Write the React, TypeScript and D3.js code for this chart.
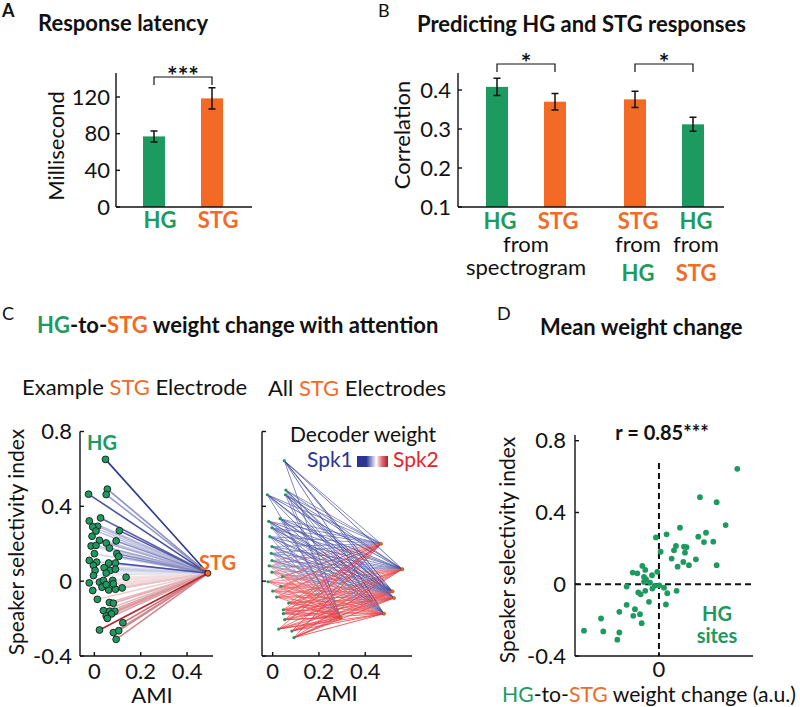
import React from 'react';
import * as d3 from 'd3';

const GREEN = '#1d9a5f';
const ORANGE = '#f26a26';
const BLUE = '#2c3593';
const RED = '#e3262d';
const DARKRED = '#ad1c26';
const FONT = 'Lato, "Open Sans", sans-serif';

// Panel A: response latency
const latencyRegions = ['HG', 'STG'];
const latencyMean = [77, 118.5];
const latencyErr = [6, 11.5];
const latencyTicks = [0, 40, 80, 120];

// Panel B: prediction correlation
const predTargets = ['HG', 'STG', 'STG', 'HG'];
const predSources = ['spectrogram', 'spectrogram', 'HG', 'STG'];
const predMean = [0.408, 0.37, 0.376, 0.312];
const predErr = [0.022, 0.021, 0.021, 0.018];
const predTicks = [0.1, 0.2, 0.3, 0.4];

// Panel C left: example STG electrode
const exHgAmi = [0.048, -0.025, 0.056, 0.051, -0.022, 0.027, 0.014, -0.007, 0.007, 0.108, -0.01, 0.022, 0.051, 0.094, -0.014, 0.007, 0.065, 0, 0.097, 0.105, -0.022, 0.01, -0.004, 0.062, 0.091, 0.042, 0.068, 0.091, 0.003, 0.051, 0.137, -0.022, 0.022, 0.039, 0.079, 0.033, 0.062, 0.091, 0.12, 0.082, -0.007, 0.013, 0.065, 0.082, 0.039, 0.065, 0.088, 0.051, 0.074, 0.056, 0.123, 0.022, 0.082, 0.105, 0.094, 0.051, -0.004];
const exHgSsi = [0.651, 0.465, 0.492, 0.463, 0.322, 0.338, 0.293, 0.29, 0.268, 0.27, 0.24, 0.218, 0.204, 0.215, 0.188, 0.191, 0.177, 0.147, 0.147, 0.132, 0.111, 0.102, 0.084, 0.097, 0.097, 0.072, 0.057, 0.064, 0.057, 0.043, 0.021, -0.009, -0.005, 0.004, 0.004, -0.032, -0.047, -0.043, -0.036, -0.014, -0.05, -0.097, -0.114, -0.118, -0.157, -0.161, -0.161, -0.186, -0.175, -0.199, -0.222, -0.261, -0.275, -0.265, -0.311, -0.018, 0.03];
const exWeight = [1, 0.85, 0.5, 0.45, 0.25, 0.75, 0.3, 0.2, 0.25, 0.8, 0.15, 0.3, 0.35, 0.5, 0.15, 0.2, 0.4, 0.15, 0.55, 0.5, 0.1, 0.15, 0.1, 0.3, 0.85, 0.15, 0.1, 0.2, 0.05, 0.05, -0.05, -0.05, -0.05, 0.03, -0.08, -0.1, -0.15, -0.2, -0.2, -0.1, -0.1, -0.15, -0.25, -0.3, -0.25, -0.35, -0.4, -0.3, -0.35, -0.35, -0.55, -0.95, -0.45, -0.5, -0.5, -0.05, 0.05];
const exStgAmi = 0.49;
const exStgSsi = 0.042;

// Panel C right: all STG electrodes
const allHgAmi = [0.05, -0.023, 0.057, 0.055, -0.017, 0.032, -0.003, -0.012, -0.003, -0.006, -0.003, -0.015, -0.003, -0.02, 0.043, 0.035, 0, 0.017, 0.069, 0.046, 0.046, 0.052, 0.026, 0.083, 0.092];
const allHgSsi = [0.644, 0.462, 0.487, 0.462, 0.32, 0.334, 0.285, 0.238, 0.185, 0.149, 0.11, 0.082, 0.048, -0.003, 0.025, -0.028, -0.053, -0.085, -0.117, -0.153, -0.174, -0.206, -0.256, -0.267, -0.302];
const allHgBias = [0.9, 0.8, 0.6, 0.7, 0.6, 0.7, 0.5, 0.5, 0.4, 0.3, 0.2, 0.1, 0, -0.2, -0.1, -0.3, -0.3, -0.4, -0.5, -0.5, -0.6, -0.6, -0.7, -0.7, -0.8];
const allStgAmi = [0.468, 0.56, 0.518, 0.524, 0.481, 0.294];
const allStgSsi = [0.2, 0.064, -0.055, -0.09, -0.174, -0.195];
const allStgGain = [0.8, 1, 0.9, 0.9, 1, 0.8];
const allStgShift = [-0.2, 0, 0.1, -0.1, -0.1, -0.2];

// Panel D: mean weight change vs selectivity
const dWeight = [0.933, 0.488, 0.687, 0.794, 0.25, 0.56, 0.468, 0.647, 0.536, 0.091, -0.036, 0.202, 0.179, 0.298, 0.329, 0.31, 0.02, 0.151, 0.44, 0.29, 0.357, 0.222, 0.687, -0.198, -0.163, -0.313, -0.258, -0.083, -0.02, -0.178, -0.155, -0.178, -0.107, -0.052, -0.079, 0.004, 0.06, -0.385, -0.246, -0.218, -0.163, 0.099, 0.21, -0.119, 0.083, -0.385, -0.472, -0.286, -0.226, -0.306, -0.206, -0.69, -0.893, -0.663, -0.472, -0.496];
const dSsi = [0.643, 0.485, 0.457, 0.33, 0.315, 0.287, 0.265, 0.237, 0.235, 0.278, 0.261, 0.213, 0.189, 0.209, 0.207, 0.176, 0.181, 0.143, 0.139, 0.124, 0.106, 0.098, 0.106, 0.102, 0.08, 0.065, 0.061, 0.05, 0.069, 0.041, 0.028, 0.013, 0.009, -0.009, -0.024, -0.006, -0.019, -0.013, -0.046, -0.056, -0.037, -0.05, -0.037, -0.098, -0.113, -0.115, -0.154, -0.139, -0.167, -0.176, -0.217, -0.191, -0.259, -0.263, -0.269, -0.309];
const ssiTicks = [0.8, 0.4, 0, -0.4];
const amiTicks = [0, 0.2, 0.4];

const regionColor = (r: string) => (r === 'HG' ? GREEN : r === 'STG' ? ORANGE : '#111');
const num = (t: number) => (t < 0 ? '-' + String(Math.abs(t)) : String(t));
const AX = { stroke: '#111', strokeWidth: 1.4, fill: 'none' };

const YAxis = ({ x, y, ticks, fmt, range, labelX }: any) => (
  <g>
    <line x1={x} x2={x} y1={range[0]} y2={range[1]} {...AX} />
    {ticks.map((t: number) => (
      <g key={t}>
        <line x1={x} x2={x + 4} y1={y(t)} y2={y(t)} {...AX} />
        {labelX !== undefined && (
          <text x={labelX} y={y(t)} dy="0.35em" textAnchor="end" fontSize={22}>{fmt(t)}</text>
        )}
      </g>
    ))}
  </g>
);

const Bracket = ({ x1, x2, y, label }: any) => (
  <g>
    <path d={`M${x1},${y + 8} V${y} H${x2} V${y + 8}`} {...AX} strokeWidth={1.2} />
    <text x={(x1 + x2) / 2} y={y + 8} textAnchor="middle" fontSize={25} fontWeight="bold">{label}</text>
  </g>
);

const ErrorBar = ({ x, y1, y2 }: any) => (
  <path d={`M${x - 3.5},${y1} H${x + 3.5} M${x},${y1} V${y2} M${x - 3.5},${y2} H${x + 3.5}`} stroke="#111" strokeWidth={1.5} fill="none" />
);

function PanelA() {
  const x = d3.scalePoint<string>().domain(latencyRegions).range([154, 212]);
  const y = d3.scaleLinear().domain([0, 120]).range([207, 97]);
  const bw = 22;
  return (
    <g>
      <text x={2} y={17} fontSize={18} fontWeight="bold">A</text>
      <text x={38} y={31} fontSize={22} fontWeight="bold">Response latency</text>
      {latencyRegions.map((r, i) => (
        <g key={r}>
          <rect x={x(r)! - bw / 2} y={y(latencyMean[i])} width={bw} height={y(0) - y(latencyMean[i])} fill={regionColor(r)} />
          <ErrorBar x={x(r)} y1={y(latencyMean[i] + latencyErr[i])} y2={y(latencyMean[i] - latencyErr[i])} />
          <text x={x(r)! + 6} y={228} textAnchor="middle" fontSize={22} fontWeight="bold" fill={regionColor(r)}>{r}</text>
        </g>
      ))}
      <YAxis x={116} y={y} ticks={latencyTicks} fmt={num} range={[73, 207]} labelX={110} />
      <line x1={116} x2={252} y1={207} y2={207} {...AX} />
      <Bracket x1={x('HG')} x2={x('STG')} y={77} label="***" />
      <text transform="translate(56,146) rotate(-90)" dy="0.35em" textAnchor="middle" fontSize={22}>Millisecond</text>
    </g>
  );
}

function PanelB() {
  const groups = ['g1', 'g2'];
  const gx = d3.scalePoint<string>().domain(groups).range([526, 664]);
  const ix = d3.scalePoint<number>().domain([0, 1]).range([-29, 29]);
  const bx = (i: number) => gx(groups[Math.floor(i / 2)])! + ix(i % 2)!;
  const y = d3.scaleLinear().domain([0.1, 0.4]).range([207, 90]);
  const bw = 22;
  return (
    <g>
      <text x={378} y={17} fontSize={18}>B</text>
      <text x={417} y={32} fontSize={22} fontWeight="bold">Predicting HG and STG responses</text>
      {predMean.map((m, i) => (
        <g key={i}>
          <rect x={bx(i) - bw / 2} y={y(m)} width={bw} height={y(0.1) - y(m)} fill={regionColor(predTargets[i])} />
          <ErrorBar x={bx(i)} y1={y(m + predErr[i])} y2={y(m - predErr[i])} />
          <text x={bx(i) + 3} y={229} textAnchor="middle" fontSize={22} fontWeight="bold" fill={regionColor(predTargets[i])}>{predTargets[i]}</text>
        </g>
      ))}
      <text x={gx('g1')} y={252} textAnchor="middle" fontSize={22}>from</text>
      <text x={gx('g1')} y={275} textAnchor="middle" fontSize={22}>spectrogram</text>
      {[2, 3].map((i) => (
        <g key={i}>
          <text x={bx(i) + 3} y={252} textAnchor="middle" fontSize={22}>from</text>
          <text x={bx(i) + 3} y={281} textAnchor="middle" fontSize={22} fontWeight="bold" fill={regionColor(predSources[i])}>{predSources[i]}</text>
        </g>
      ))}
      <YAxis x={458} y={y} ticks={predTicks} fmt={d3.format('.1f')} range={[73, 207]} labelX={451} />
      <line x1={458} x2={724} y1={207} y2={207} {...AX} />
      <Bracket x1={bx(0)} x2={bx(1)} y={64} label="*" />
      <Bracket x1={bx(2)} x2={bx(3)} y={64} label="*" />
      <text transform="translate(402,135) rotate(-90)" dy="0.35em" textAnchor="middle" fontSize={22}>Correlation</text>
    </g>
  );
}

const ssiY = d3.scaleLinear().domain([-0.4, 0.8]).range([656, 431.5]);

function weightColor(w: number, pos: string, neg: string, t0 = 0) {
  const a = Math.min(1, Math.abs(w));
  return d3.interpolateRgb('#ffffff', w >= 0 ? pos : neg)(t0 + (1 - t0) * a);
}

function PanelCLeft() {
  const x = d3.scaleLinear().domain([-0.062, 0.512]).range([80, 213]);
  const sx = x(exStgAmi);
  const sy = ssiY(exStgSsi);
  const order = d3.range(exHgAmi.length).sort((a, b) => Math.abs(exWeight[a]) - Math.abs(exWeight[b]));
  return (
    <g>
      <text x={22} y={395} fontSize={22}>Example <tspan fill={ORANGE}>STG</tspan> Electrode</text>
      {order.map((i) => (
        <line key={i} x1={x(exHgAmi[i])} y1={ssiY(exHgSsi[i])} x2={sx} y2={sy}
          stroke={weightColor(exWeight[i], BLUE, DARKRED, 0.08)} strokeWidth={1.6} />
      ))}
      {exHgAmi.map((a, i) => (
        <circle key={i} cx={x(a)} cy={ssiY(exHgSsi[i])} r={3.4} fill={GREEN} stroke="#1a1a1a" strokeWidth={0.9} />
      ))}
      <circle cx={sx} cy={sy} r={3} fill={ORANGE} stroke="#1a1a1a" strokeWidth={0.9} />
      <text x={87} y={450} fontSize={20} fontWeight="bold" fill={GREEN}>HG</text>
      <text x={199} y={570} fontSize={20} fontWeight="bold" fill={ORANGE}>STG</text>
      <YAxis x={80} y={ssiY} ticks={ssiTicks} fmt={num} range={[431.5, 656]} labelX={72} />
      <line x1={80} x2={213} y1={656} y2={656} {...AX} />
      {amiTicks.map((t) => (
        <g key={t}>
          <line x1={x(t)} x2={x(t)} y1={656} y2={652} {...AX} />
          <text x={x(t)} y={679} textAnchor="middle" fontSize={22}>{num(t)}</text>
        </g>
      ))}
      <text x={152} y={703} textAnchor="middle" fontSize={22}>AMI</text>
      <text transform="translate(17,542) rotate(-90)" dy="0.35em" textAnchor="middle" fontSize={21}>Speaker selectivity index</text>
    </g>
  );
}

function PanelCRight() {
  const x = d3.scaleLinear().domain([-0.046, 0.602]).range([262, 412]);
  const links: { i: number; j: number; w: number }[] = [];
  allStgAmi.forEach((_, j) => {
    allHgAmi.forEach((_, i) => {
      const w = Math.max(-1, Math.min(1, allHgBias[i] * allStgGain[j] + allStgShift[j]));
      links.push({ i, j, w });
    });
  });
  links.sort((a, b) => Math.abs(a.w) - Math.abs(b.w));
  return (
    <g>
      <defs>
        <linearGradient id="wgrad" x1="0" x2="1" y1="0" y2="0">
          <stop offset="0" stopColor={BLUE} />
          <stop offset="0.3" stopColor={BLUE} />
          <stop offset="0.62" stopColor="#ffffff" />
          <stop offset="0.8" stopColor="#e0707a" />
          <stop offset="1" stopColor={DARKRED} />
        </linearGradient>
      </defs>
      <text x={268} y={396} fontSize={22}>All <tspan fill={ORANGE}>STG</tspan> Electrodes</text>
      {links.map((l, k) => (
        <line key={k} x1={x(allHgAmi[l.i])} y1={ssiY(allHgSsi[l.i])} x2={x(allStgAmi[l.j])} y2={ssiY(allStgSsi[l.j])}
          stroke={weightColor(l.w, BLUE, RED, 0.55)} strokeWidth={0.9} strokeOpacity={0.85} />
      ))}
      {allHgAmi.map((a, i) => (
        <circle key={i} cx={x(a)} cy={ssiY(allHgSsi[i])} r={1.6} fill={GREEN} />
      ))}
      {allStgAmi.map((a, j) => (
        <circle key={j} cx={x(a)} cy={ssiY(allStgSsi[j])} r={1.6} fill={ORANGE} stroke="#7a3a10" strokeWidth={0.5} />
      ))}
      <text x={290} y={442} fontSize={21}>Decoder weight</text>
      <text x={307} y={467} fontSize={21} fill={BLUE}>Spk1</text>
      <rect x={357} y={456} width={31} height={11} fill="url(#wgrad)" />
      <text x={393} y={467} fontSize={21} fill={RED}>Spk2</text>
      <YAxis x={262} y={ssiY} ticks={ssiTicks} fmt={num} range={[431.5, 656]} />
      <line x1={262} x2={412} y1={656} y2={656} {...AX} />
      {amiTicks.map((t) => (
        <g key={t}>
          <line x1={x(t)} x2={x(t)} y1={656} y2={652} {...AX} />
          <text x={x(t)} y={679} textAnchor="middle" fontSize={22}>{num(t)}</text>
        </g>
      ))}
      <text x={337} y={701} textAnchor="middle" fontSize={22}>AMI</text>
    </g>
  );
}

function PanelD() {
  const x = d3.scaleLinear().domain([-1, 1.12]).range([575, 753]);
  const y = d3.scaleLinear().domain([-0.4, 0.8]).range([656, 440.7]);
  return (
    <g>
      <text x={497} y={320} fontSize={18}>D</text>
      <text x={540} y={335} fontSize={22} fontWeight="bold">Mean weight change</text>
      <line x1={x(0)} x2={x(0)} y1={463} y2={656} stroke="#111" strokeWidth={2} strokeDasharray="6,4" />
      <line x1={575} x2={753} y1={y(0)} y2={y(0)} stroke="#111" strokeWidth={2} strokeDasharray="6,4" />
      {dWeight.map((w, i) => (
        <circle key={i} cx={x(w)} cy={y(dSsi[i])} r={2.9} fill={GREEN} />
      ))}
      <YAxis x={575} y={y} ticks={ssiTicks} fmt={num} range={[435, 656]} labelX={566} />
      <line x1={575} x2={753} y1={656} y2={656} {...AX} />
      <line x1={x(0)} x2={x(0)} y1={656} y2={652} {...AX} />
      <text x={x(0)} y={677} textAnchor="middle" fontSize={22}>0</text>
      <text x={662} y={440} textAnchor="middle" fontSize={20} fontWeight="bold">r = 0.85***</text>
      <text x={717} y={621} textAnchor="middle" fontSize={20} fontWeight="bold" fill={GREEN}>HG</text>
      <text x={717} y={643} textAnchor="middle" fontSize={20} fontWeight="bold" fill={GREEN}>sites</text>
      <text transform="translate(508,550) rotate(-90)" dy="0.35em" textAnchor="middle" fontSize={21}>Speaker selectivity index</text>
      <text x={502} y={702} fontSize={21} textLength={294} lengthAdjust="spacingAndGlyphs">
        <tspan fill={GREEN}>HG</tspan>-to-<tspan fill={ORANGE}>STG</tspan> weight change (a.u.)
      </text>
    </g>
  );
}

export default function App() {
  return (
    <svg width={800} height={707} style={{ position: 'absolute', left: 0, top: 0, background: '#fff' }}
      fontFamily={FONT} fill="#111">
      <PanelA />
      <PanelB />
      <text x={2} y={320} fontSize={18}>C</text>
      <text x={37} y={333} fontSize={22} fontWeight="bold">
        <tspan fill={GREEN}>HG</tspan>-to-<tspan fill={ORANGE}>STG</tspan> weight change with attention
      </text>
      <PanelCLeft />
      <PanelCRight />
      <PanelD />
    </svg>
  );
}
